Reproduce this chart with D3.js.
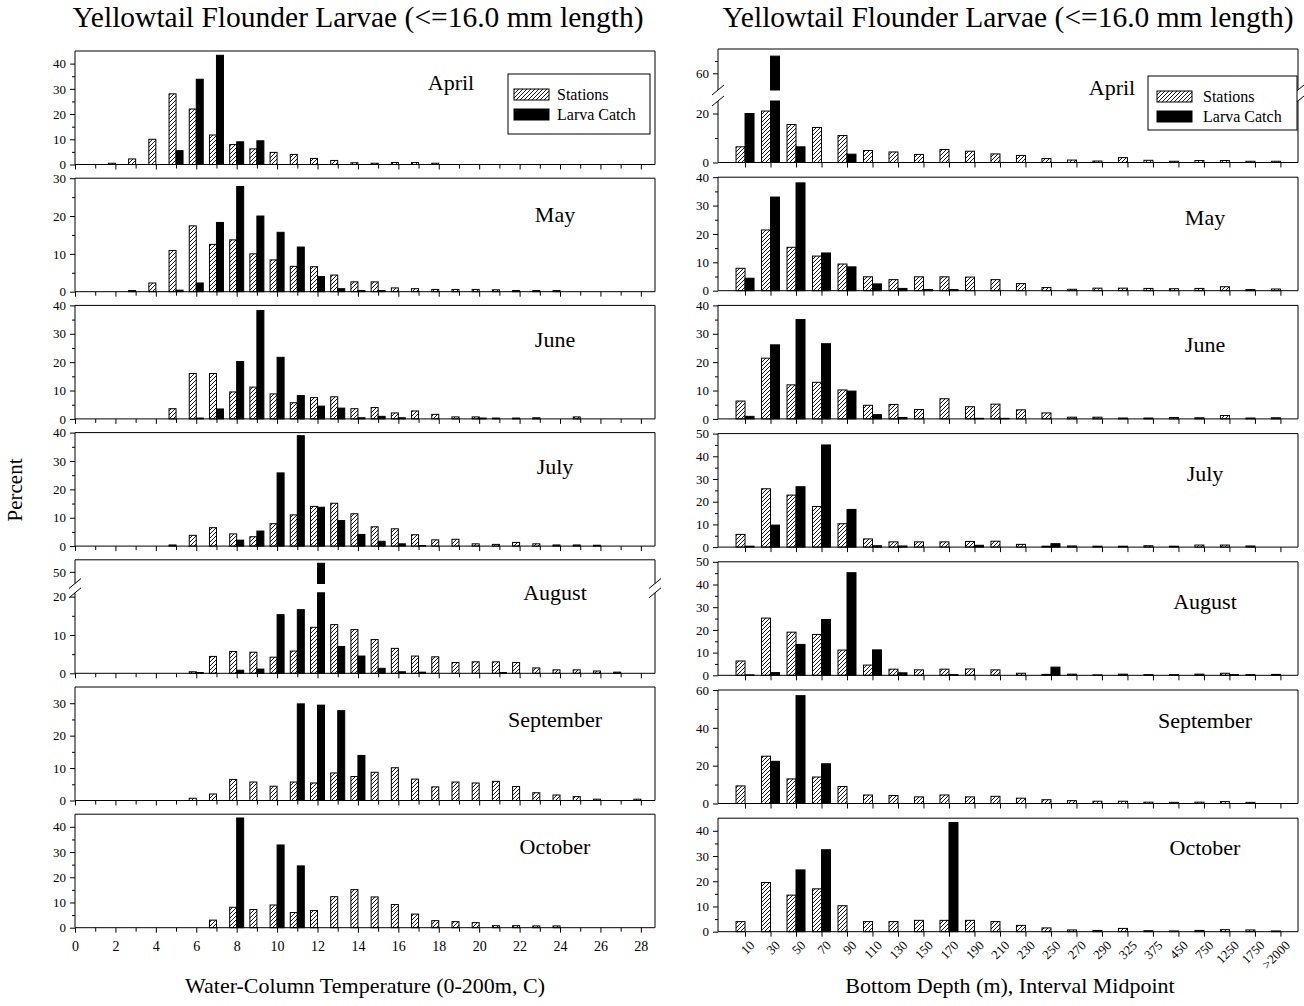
<!DOCTYPE html>
<html lang="en">
<head>
<meta charset="UTF-8">
<title>Yellowtail Flounder Larvae</title>
<script src="https://d3js.org/d3.v7.min.js"></script>
<style>
    body { margin: 0; background: #fff; }
    svg { font-family: "Liberation Serif", "Times New Roman", serif; }
</style>
</head>
<body>
<svg id="chart" width="1304" height="1006"></svg>
<script>
    // Months (one panel per month, both columns)
    const months = ["April", "May", "June", "July", "August", "September", "October"];

    // Left column: water-column temperature bins 0..28 C
    const temps = d3.range(0, 29);
    const tempStnApr = [0,0,0.5,2.2,10,28,22,11.7,7.9,6.2,4.8,4,2.4,1.6,0.7,0.5,0.8,0.8,0.5,0,0,0,0,0,0,0,0,0,0];
    const tempLarApr = [0,0,0,0,0,5.5,33.8,43.3,9,9.4,0,0,0,0,0,0,0,0,0,0,0,0,0,0,0,0,0,0,0];
    const tempStnMay = [0,0,0,0.3,2.3,10.9,17.4,12.5,13.7,10,8.4,6.7,6.6,4.4,2.6,2.6,1,0.8,0.6,0.6,0.6,0.5,0.3,0.3,0.3,0,0,0,0];
    const tempLarMay = [0,0,0,0,0,0.4,2.3,18.3,27.8,20,15.7,11.8,4,0.8,0.3,0.3,0,0,0,0,0,0,0,0,0,0,0,0,0];
    const tempStnJun = [0,0,0,0,0,3.6,16,16,9.5,11.2,8.8,5.7,7.5,7.8,3.6,4,2.1,2.8,1.6,0.7,0.7,0.3,0.3,0.4,0,0.7,0,0,0];
    const tempLarJun = [0,0,0,0,0,0,0.3,3.5,20.2,38.2,21.7,8.2,4.5,3.8,0.4,0.9,0.4,0,0,0,0.3,0,0,0,0,0,0,0,0];
    const tempStnJul = [0,0,0,0,0,0.4,3.8,6.5,4.3,3.3,7.9,11,14,15.1,11.4,6.8,6.1,4,2.2,2.4,0.8,0.6,1.3,0.8,0.4,0.4,0.3,0,0];
    const tempLarJul = [0,0,0,0,0,0,0,0,2.1,5.3,25.8,38.9,13.7,9,4.1,1.7,0.8,0.2,0,0,0,0,0,0,0,0,0,0,0];
    const tempStnAug = [0,0,0,0,0,0,0.4,4.4,5.7,5.5,4.2,5.8,12,12.7,11.4,8.8,6.5,4.5,4.3,2.8,3,3,2.8,1.4,0.9,0.9,0.6,0.3,0];
    const tempLarAug = [0,0,0,0,0,0,0.2,0,0.8,1.1,15.3,16.6,52.2,7,4.5,1.3,0.4,0.3,0,0,0,0.2,0,0,0,0,0,0,0];
    const tempStnSep = [0,0,0,0,0,0,0.7,2,6.5,5.7,4.4,5.7,5.4,8.5,7.4,8.7,10.1,6.6,4.2,5.7,5.4,5.9,4.3,2.4,1.7,1.2,0.4,0,0.4];
    const tempLarSep = [0,0,0,0,0,0,0,0,0,0,0,29.8,29.4,27.7,13.9,0,0,0,0,0,0,0,0,0,0,0,0,0,0];
    const tempStnOct = [0,0,0,0,0,0,0,3,8.1,7.2,9,6,6.8,12.3,15.1,12.2,9.2,5.4,2.8,2.4,2,0.8,0.8,0.7,0.7,0,0,0,0];
    const tempLarOct = [0,0,0,0,0,0,0,0,43.5,0,32.8,24.5,0,0,0,0,0,0,0,0,0,0,0,0,0,0,0,0,0];

    // Right column: bottom depth interval midpoints (m)
    const depthLabels = ["10","30","50","70","90","110","130","150","170","190","210","230","250","270","290","325","375","450","750","1250","1750",">2000"];
    const depStnApr = [6.4,21,15.5,14.3,11,4.9,4.3,3.3,5.3,4.6,3.5,2.9,1.6,1,0.6,2,0.9,0.5,0.8,0.8,0.5,0.5];
    const depLarApr = [20,67,6.4,0,3.4,0,0,0,0,0,0,0,0,0,0,0,0,0,0,0,0,0];
    const depStnMay = [7.9,21.4,15.3,12.2,9.4,4.9,3.9,4.9,4.9,4.8,3.9,2.5,1.1,0.5,0.9,0.9,0.8,0.7,0.8,1.4,0.4,0.6];
    const depLarMay = [4.4,33,38,13.3,8.4,2.4,0.8,0.4,0.4,0,0,0,0,0,0,0,0,0,0,0,0,0];
    const depStnJun = [6.3,21.4,12,12.9,10.2,4.8,5.1,3.3,7.1,4.3,5.2,3.2,2.1,0.6,0.6,0.3,0.3,0.5,0.4,1.2,0.3,0.4];
    const depLarJun = [0.9,26.1,35,26.5,9.8,1.5,0.5,0,0,0.2,0.2,0,0,0,0,0,0,0,0,0,0,0];
    const depStnJul = [5.6,25.7,22.9,17.9,10.3,3.6,2.3,2.3,2.3,2.5,2.6,1.2,0.4,0.5,0.4,0.4,0.6,0.4,0.9,0.9,0.5,0];
    const depLarJul = [0.4,9.7,26.6,45,16.6,0.6,0.5,0,0,0.8,0,0,1.5,0,0,0,0,0,0,0,0,0];
    const depStnAug = [6.3,25.2,19,18,11.1,4.5,2.7,2.4,2.7,2.8,2.4,0.9,0.4,0.5,0.2,0.5,0.3,0.3,0.5,0.9,0.3,0.4];
    const depLarAug = [0.2,1.2,13.6,24.6,45.2,11.2,1.1,0,0.3,0,0,0,3.6,0,0,0,0,0,0,0.3,0,0];
    const depStnSep = [9.3,25,13,14,9,4.5,4.2,3.5,4.5,3.5,3.8,2.8,2,1.5,1.2,1.2,0.7,0.6,0.7,1,0.6,0];
    const depLarSep = [0,22.3,57,21,0,0,0,0,0,0,0,0,0,0,0,0,0,0,0,0,0,0];
    const depStnOct = [4,19.5,14.5,17,10.3,4,4,4.5,4.5,4.5,4,2.5,1.5,0.7,0.5,1.3,0.4,0.3,0.5,0.8,0.7,0.3];
    const depLarOct = [0,0,24.5,32.5,0,0,0,0,43.3,0,0,0,0,0,0,0,0,0,0,0,0,0];

    const leftStn = [tempStnApr, tempStnMay, tempStnJun, tempStnJul, tempStnAug, tempStnSep, tempStnOct];
    const leftLar = [tempLarApr, tempLarMay, tempLarJun, tempLarJul, tempLarAug, tempLarSep, tempLarOct];
    const rightStn = [depStnApr, depStnMay, depStnJun, depStnJul, depStnAug, depStnSep, depStnOct];
    const rightLar = [depLarApr, depLarMay, depLarJun, depLarJul, depLarAug, depLarSep, depLarOct];

    const svg = d3.select("#chart");

    // hatch pattern for the Stations bars
    const pat = svg.append("defs").append("pattern")
        .attr("id", "hatch")
        .attr("patternUnits", "userSpaceOnUse")
        .attr("width", 4).attr("height", 4);
    pat.append("rect").attr("width", 4).attr("height", 4).attr("fill", "#fff");
    pat.append("path")
        .attr("d", "M-1,1 l2,-2 M0,4 l4,-4 M3,5 l2,-2")
        .attr("stroke", "#000").attr("stroke-width", 0.9);

    const leftX = d3.scaleLinear().domain([0, 28.7]).range([75, 655]);
    const depthIdx = d3.range(depthLabels.length);
    const rightX = d3.scaleLinear().domain([-1.06, 21.69]).range([718, 1298]);
    const H = 113.5;

    function drawPanel(o) {
        const g = svg.append("g");
        const ys = o.segs.map(s => d3.scaleLinear().domain(s.dom).range(s.rng));

        // bar pieces (one piece per axis segment the bar reaches)
        const pieces = [];
        [{vals: o.stn, dx: -o.bw, fill: "url(#hatch)"}, {vals: o.lar, dx: 0, fill: "#000"}].forEach(se => {
            se.vals.forEach((v, k) => {
                if (!v) return;
                o.segs.forEach((s, si) => {
                    const lo = si === 0 ? 0 : s.dom[0];
                    if (v <= lo) return;
                    const hi = Math.min(v, s.dom[1]);
                    pieces.push({x: o.x(o.cats[k]) + se.dx, y0: ys[si](lo), y1: ys[si](hi), fill: se.fill});
                });
            });
        });
        g.selectAll("rect.bar")
            .data(pieces)
            .join("rect")
            .attr("class", "bar")
            .attr("x", d => d.x)
            .attr("width", o.bw)
            .attr("y", d => d.y1)
            .attr("height", d => d.y0 - d.y1)
            .attr("fill", d => d.fill)
            .attr("stroke", "#000")
            .attr("stroke-width", 1);

        // y axes
        o.segs.forEach((s, si) => {
            g.append("g")
                .attr("transform", `translate(${o.left},0)`)
                .call(d3.axisLeft(ys[si]).tickValues(s.major).tickSize(5).tickPadding(4).tickFormat(d3.format("d")))
                .call(a => a.select(".domain").remove())
                .call(a => a.selectAll("text").attr("font-size", 13).attr("font-family", "Liberation Serif"));
            g.append("g")
                .attr("transform", `translate(${o.left},0)`)
                .call(d3.axisLeft(ys[si]).tickValues(s.minor).tickSize(3).tickFormat(""))
                .call(a => a.select(".domain").remove());
        });

        // x axis ticks
        g.append("g").attr("transform", `translate(0,${o.zero})`)
            .call(d3.axisBottom(o.x).tickValues(o.xMajor).tickSize(5).tickPadding(8)
                .tickFormat(o.bottom && o.xFmt ? o.xFmt : ""))
            .call(a => a.select(".domain").remove())
            .call(a => a.selectAll("text").attr("font-size", 14).attr("font-family", "Liberation Serif"));
        if (o.xMinor) {
            g.append("g").attr("transform", `translate(0,${o.zero})`)
                .call(d3.axisBottom(o.x).tickValues(o.xMinor).tickSize(4).tickFormat(""))
                .call(a => a.select(".domain").remove());
        }

        // frame
        const line = (x1, y1, x2, y2) => g.append("line")
            .attr("x1", x1).attr("y1", y1).attr("x2", x2).attr("y2", y2)
            .attr("stroke", "#000").attr("stroke-width", 1);
        line(o.left, o.top, o.right, o.top);
        line(o.left, o.zero, o.right, o.zero);
        o.segs.forEach(s => {
            line(o.left, s.rng[0], o.left, s.rng[1]);
            line(o.right, s.rng[0], o.right, s.rng[1]);
        });
        if (o.segs.length > 1) {
            [o.segs[0].rng[1], o.segs[1].rng[0]].forEach(yb => {
                [o.left, o.right].forEach(xb => line(xb - 6, yb + 5, xb + 6, yb - 5));
            });
        }

        // month label
        g.append("text")
            .attr("x", o.labelX).attr("y", o.top + o.labelDy)
            .attr("text-anchor", "middle")
            .attr("font-size", 22)
            .text(o.month);
        return g;
    }

    // ---- left column ----
    const leftSegs = [
        [{dom: [0, 45], major: [0, 10, 20, 30, 40], minor: [5, 15, 25, 35]}],
        [{dom: [0, 30], major: [0, 10, 20, 30], minor: [5, 15, 25]}],
        [{dom: [0, 40], major: [0, 10, 20, 30, 40], minor: [5, 15, 25, 35]}],
        [{dom: [0, 40], major: [0, 10, 20, 30, 40], minor: [5, 15, 25, 35]}],
        null,
        [{dom: [0, 35], major: [0, 10, 20, 30], minor: [5, 15, 25]}],
        [{dom: [0, 45], major: [0, 10, 20, 30, 40], minor: [5, 15, 25, 35]}]
    ];
    const leftLabelDy = [39, 44, 42, 41, 40, 40, 40];
    months.forEach((m, i) => {
        const top = 51 + 127.2 * i, zero = top + H;
        let segs;
        if (i === 4) {
            segs = [
                {dom: [0, 21], rng: [zero, zero - 80.5], major: [0, 10, 20], minor: [5, 15]},
                {dom: [47, 53.1], rng: [top + 23.7, top], major: [50], minor: []}
            ];
        } else {
            segs = leftSegs[i].map(s => Object.assign({rng: [zero, top]}, s));
        }
        drawPanel({
            month: m, x: leftX, cats: temps, stn: leftStn[i], lar: leftLar[i],
            left: 75, right: 655, top: top, zero: zero, segs: segs, bw: 7,
            xMajor: d3.range(0, 29, 2), xMinor: d3.range(1, 29, 2),
            bottom: i === 6, xFmt: d3.format("d"),
            labelX: i === 0 ? 451 : 555, labelDy: leftLabelDy[i]
        });
    });

    // ---- right column ----
    const rightSegs = [
        null,
        [{dom: [0, 40], major: [0, 10, 20, 30, 40], minor: [5, 15, 25, 35]}],
        [{dom: [0, 40], major: [0, 10, 20, 30, 40], minor: [5, 15, 25, 35]}],
        [{dom: [0, 50], major: [0, 10, 20, 30, 40, 50], minor: [5, 15, 25, 35, 45]}],
        [{dom: [0, 50], major: [0, 10, 20, 30, 40, 50], minor: [5, 15, 25, 35, 45]}],
        [{dom: [0, 60], major: [0, 20, 40, 60], minor: [10, 30, 50]}],
        [{dom: [0, 45], major: [0, 10, 20, 30, 40], minor: [5, 15, 25, 35]}]
    ];
    const rightLabelDy = [46, 48, 47, 47, 47, 38, 37];
    months.forEach((m, i) => {
        const top = 49 + 128.2 * i, zero = top + H;
        let segs;
        if (i === 0) {
            segs = [
                {dom: [0, 25.1], rng: [zero, zero - 61.5], major: [0, 20], minor: [10]},
                {dom: [53.2, 69.9], rng: [top + 41, top], major: [60], minor: [65]}
            ];
        } else {
            segs = rightSegs[i].map(s => Object.assign({rng: [zero, top]}, s));
        }
        const g = drawPanel({
            month: m, x: rightX, cats: depthIdx, stn: rightStn[i], lar: rightLar[i],
            left: 718, right: 1298, top: top, zero: zero, segs: segs, bw: 9,
            xMajor: depthIdx, xMinor: null, bottom: false,
            labelX: i === 0 ? 1112 : 1205, labelDy: rightLabelDy[i]
        });
        if (i === 6) {
            g.selectAll("text.dlab")
                .data(depthIdx)
                .join("text")
                .attr("class", "dlab")
                .attr("transform", d => `translate(${rightX(d) + 4},${zero + 8}) rotate(-45)`)
                .attr("text-anchor", "end")
                .attr("dy", "0.7em")
                .attr("font-size", 13)
                .text(d => depthLabels[d]);
        }
    });

    // ---- legends ----
    function legend(x, y, w, h, sx, tx) {
        const g = svg.append("g");
        g.append("rect").attr("x", x).attr("y", y).attr("width", w).attr("height", h)
            .attr("fill", "#fff").attr("stroke", "#000");
        g.append("rect").attr("x", sx).attr("y", y + 15).attr("width", 35).attr("height", 11)
            .attr("fill", "url(#hatch)").attr("stroke", "#000");
        g.append("rect").attr("x", sx).attr("y", y + 35).attr("width", 35).attr("height", 11)
            .attr("fill", "#000").attr("stroke", "#000");
        g.append("text").attr("x", tx).attr("y", y + 26).attr("font-size", 16).text("Stations");
        g.append("text").attr("x", tx).attr("y", y + 46).attr("font-size", 16).text("Larva Catch");
    }
    legend(508, 74, 142, 60, 514, 557);
    legend(1148, 76, 149, 54, 1157, 1203);

    // ---- titles ----
    const title = "Yellowtail Flounder Larvae (<=16.0 mm length)";
    svg.append("text").attr("x", 358).attr("y", 27).attr("text-anchor", "middle").attr("font-size", 29.5).text(title);
    svg.append("text").attr("x", 1008).attr("y", 27).attr("text-anchor", "middle").attr("font-size", 29.5).text(title);
    svg.append("text").attr("x", 365).attr("y", 993).attr("text-anchor", "middle").attr("font-size", 22)
        .text("Water-Column Temperature (0-200m, C)");
    svg.append("text").attr("x", 1010).attr("y", 993).attr("text-anchor", "middle").attr("font-size", 22)
        .text("Bottom Depth (m), Interval Midpoint");
    svg.append("text").attr("transform", "translate(22,490) rotate(-90)")
        .attr("text-anchor", "middle").attr("font-size", 21).text("Percent");
</script>
</body>
</html>
